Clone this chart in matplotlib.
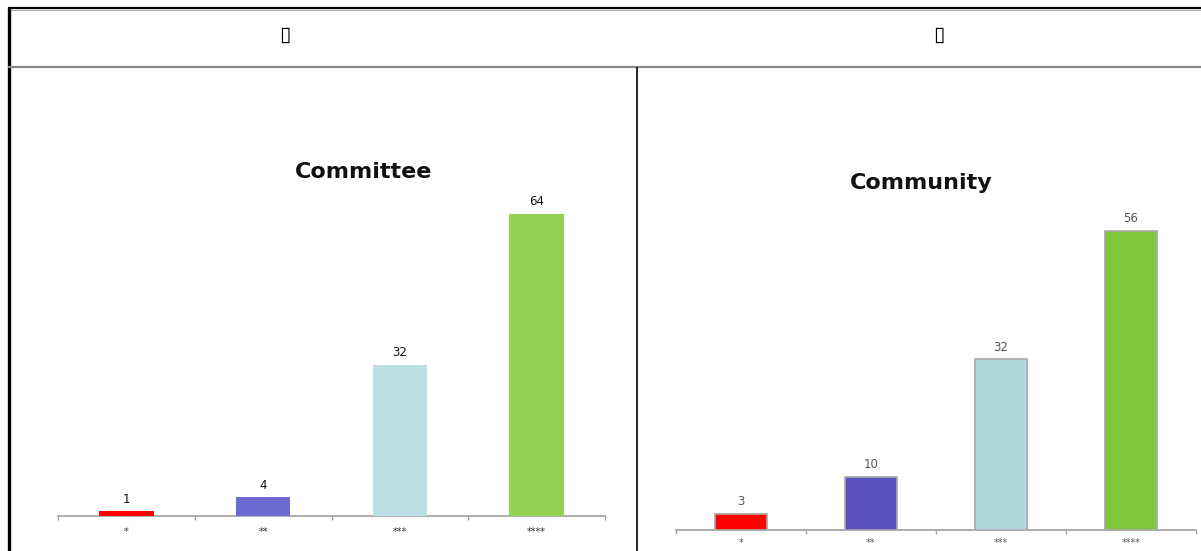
import matplotlib
matplotlib.use("Agg")
import matplotlib.pyplot as plt
from matplotlib.lines import Line2D

W, H = 1201, 551

stars = ["*", "**", "***", "****"]
committee = [1, 4, 32, 64]
community = [3, 10, 32, 56]

committee_colors = ["#ff0000", "#6b6bd0", "#bbe0e3", "#92d050"]
community_colors = ["#ff0000", "#5a52c0", "#aed8dc", "#80c63d"]

fig = plt.figure(figsize=(W / 100, H / 100), dpi=100)
fig.patch.set_facecolor("white")


def box(x0, y0, x1, y1):
    # pixel box (top-left origin) -> figure fraction rect
    return [x0 / W, 1 - y1 / H, (x1 - x0) / W, (y1 - y0) / H]


def line(x0, y0, x1, y1, **kw):
    fig.add_artist(Line2D([x0 / W, x1 / W], [1 - y0 / H, 1 - y1 / H],
                          transform=fig.transFigure, solid_capstyle="butt",
                          **kw))


# table frame
line(8, 8, W, 8, color="black", lw=1.6)
line(8, 9.5, W, 9.5, color="#999999", lw=0.6)
line(8.5, 7, 8.5, H, color="black", lw=2.4)
line(8, 67, W, 67, color="#888888", lw=1.6)
line(636.5, 67, 636.5, H, color="black", lw=1.2)

# header cells
fig.text(285 / W, 1 - 35 / H, "\u25af", ha="center", va="center",
         fontsize=15, fontweight="bold", family="DejaVu Sans")
fig.text(939 / W, 1 - 35 / H, "\u25af", ha="center", va="center",
         fontsize=15, family="DejaVu Sans")


def bar_chart(rect, values, colors, px_per_unit, title, title_y,
              title_x, edge, label_color, tick_color, pad):
    ax = fig.add_axes(rect)
    height_px = rect[3] * H
    x = range(len(values))
    ax.bar(x, values, width=0.4, color=colors,
           edgecolor=edge if edge else "none", linewidth=1.2 if edge else 0,
           zorder=3)
    ax.set_xlim(-0.5, len(values) - 0.5)
    ax.set_ylim(0, height_px / px_per_unit)
    for s in ("top", "left", "right"):
        ax.spines[s].set_visible(False)
    ax.spines["bottom"].set_color("#a0a0a0")
    ax.spines["bottom"].set_linewidth(1.2)
    ax.set_yticks([])
    ax.set_xticks(list(x))
    ax.set_xticklabels(stars, fontsize=7, color=tick_color)
    ax.tick_params(axis="x", which="major", length=0, pad=pad)
    ax.set_xticks([i - 0.5 for i in range(len(values) + 1)], minor=True)
    ax.tick_params(axis="x", which="minor", length=3, color="#a0a0a0",
                   width=1)
    for i, v in enumerate(values):
        ax.annotate(str(v), (i, v), xytext=(0, 4), textcoords="offset points",
                    ha="center", va="bottom", fontsize=8.5,
                    color=label_color)
    fig.text(title_x / W, 1 - title_y / H, title, ha="center", va="center",
             fontsize=16, fontweight="bold", color="#111111",
             family="DejaVu Sans")
    return ax


bar_chart(box(58, 100, 605, 516), committee, committee_colors, 4.72,
          "Committee", 172, 364, None, "#111111", "#333333", 8)
bar_chart(box(676, 100, 1196, 530), community, community_colors, 5.34,
          "Community", 183, 921, "#a8a8a8", "#555555", "#555555", 6)

fig.savefig("out.png", dpi=100, facecolor="white")
